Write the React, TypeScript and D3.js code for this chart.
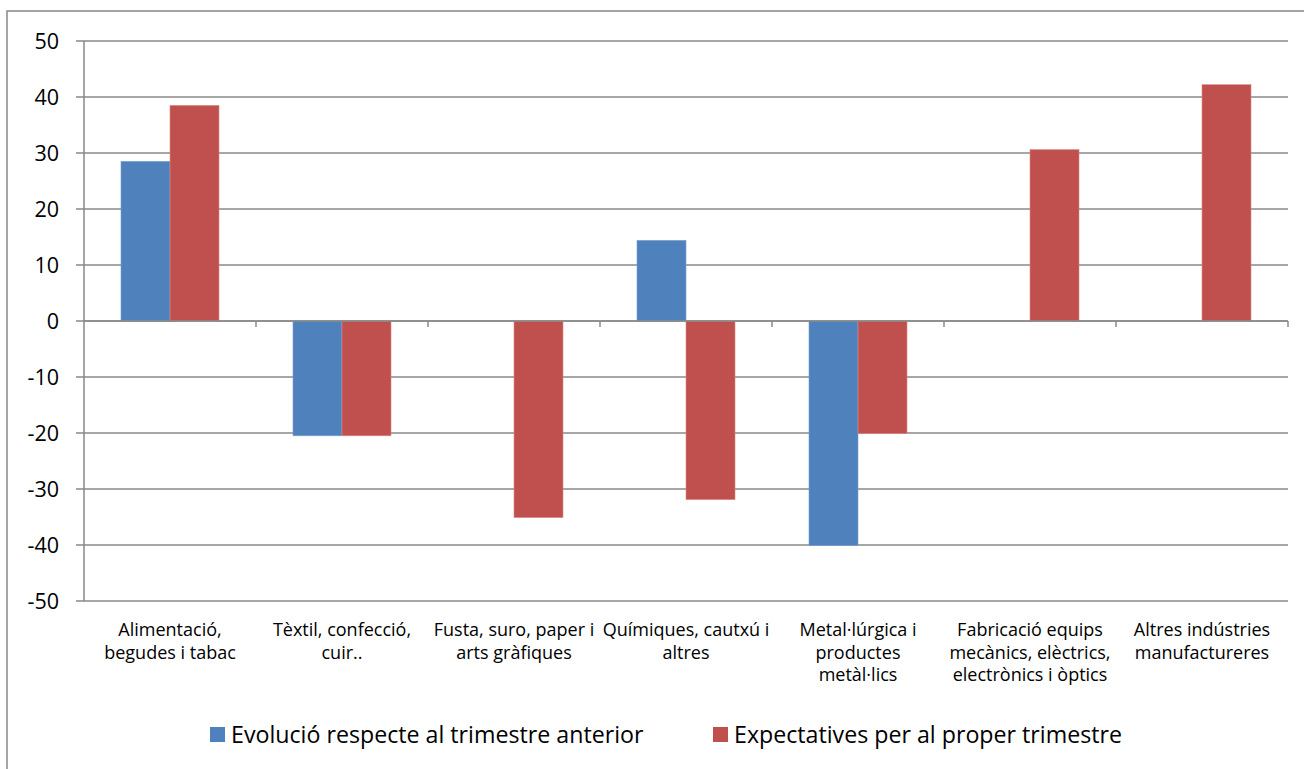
import React from "react";
import * as d3 from "d3";

const categories: string[][] = [
  ["Alimentació,", "begudes i tabac"],
  ["Tèxtil, confecció,", "cuir.."],
  ["Fusta, suro, paper i", "arts gràfiques"],
  ["Químiques, cautxú i", "altres"],
  ["Metal·lúrgica i", "productes", "metàl·lics"],
  ["Fabricació equips", "mecànics, elèctrics,", "electrònics i òptics"],
  ["Altres indústries", "manufactureres"],
];

const seriesNames = [
  "Evolució respecte al trimestre anterior",
  "Expectatives per al proper trimestre",
];

const evolucio: (number | null)[] = [28.5, -20.5, null, 14.4, -40.1, null, null];
const expectatives: (number | null)[] = [38.5, -20.5, -35.1, -31.9, -20.1, 30.6, 42.2];

const yTicks = [50, 40, 30, 20, 10, 0, -10, -20, -30, -40, -50];

const colors = ["#4f81bd", "#c0504d"];

const W = 1304;
const H = 769;
const plot = { left: 84, right: 1288, top: 41, bottom: 601 };
const FONT = "'Open Sans', Lato, sans-serif";
const GRID = "#888888";

export default function App() {
  const keys = categories.map((_, i) => String(i));
  const x0 = d3.scaleBand<string>().domain(keys).range([plot.left, plot.right]).padding(0);
  const x1 = d3
    .scaleBand<string>()
    .domain(["0", "1"])
    .range([0, x0.bandwidth()])
    .paddingInner(0)
    .paddingOuter(0.755);
  const y = d3.scaleLinear().domain([-50, 50]).range([plot.bottom, plot.top]);
  const seriesVals = [evolucio, expectatives];

  const legendItems = [
    { sx: 210, tx: 231 },
    { sx: 713, tx: 734 },
  ];

  return (
    <svg
      width={W}
      height={H}
      style={{ position: "absolute", left: 0, top: 0, background: "#fff" }}
      fontFamily={FONT}
    >
      <rect x={7} y={11} width={W + 20} height={H + 20} fill="#fff" stroke={GRID} strokeWidth={1.5} />
      {/* gridlines + y ticks */}
      {yTicks.map((t) => (
        <g key={t}>
          <line x1={plot.left - 8} x2={plot.right} y1={y(t)} y2={y(t)} stroke={GRID} strokeWidth={1.5} />
          <text x={59} y={y(t)} dy="0.36em" textAnchor="end" fontSize={21.5} fill="#000">
            {t}
          </text>
        </g>
      ))}
      {/* y axis */}
      <line x1={plot.left} x2={plot.left} y1={plot.top} y2={plot.bottom} stroke={GRID} strokeWidth={1.5} />
      {/* bars */}
      {keys.map((k, i) => (
        <g key={k} transform={`translate(${x0(k)},0)`}>
          {seriesVals.map((vals, s) => {
            const v = vals[i];
            if (v === null) return null;
            const yy = Math.min(y(v), y(0));
            const hh = Math.abs(y(v) - y(0));
            return (
              <rect
                key={s}
                x={x1(String(s))}
                y={yy}
                width={x1.bandwidth()}
                height={hh}
                fill={colors[s]}
                stroke={s === 0 ? "#7ba0d0" : "#d98a88"}
                strokeWidth={0.6}
              />
            );
          })}
        </g>
      ))}
      {/* x axis at zero */}
      <line x1={plot.left} x2={plot.right} y1={y(0)} y2={y(0)} stroke={GRID} strokeWidth={1.5} />
      {keys.map((k) => (
        <line
          key={"t" + k}
          x1={(x0(k) as number) + x0.bandwidth()}
          x2={(x0(k) as number) + x0.bandwidth()}
          y1={y(0)}
          y2={y(0) + 6}
          stroke={GRID}
          strokeWidth={1.5}
        />
      ))}
      {/* category labels */}
      {categories.map((lines, i) => (
        <text
          key={"c" + i}
          x={(x0(String(i)) as number) + x0.bandwidth() / 2}
          y={636}
          textAnchor="middle"
          fontSize={18}
          fill="#000"
        >
          {lines.map((l, j) => (
            <tspan key={j} x={(x0(String(i)) as number) + x0.bandwidth() / 2} dy={j === 0 ? 0 : 22.5}>
              {l}
            </tspan>
          ))}
        </text>
      ))}
      {/* legend */}
      {seriesNames.map((n, s) => (
        <g key={n}>
          <rect x={legendItems[s].sx} y={727} width={15} height={15} fill={colors[s]} />
          <text x={legendItems[s].tx} y={743} fontSize={23.2} fill="#000">
            {n}
          </text>
        </g>
      ))}
    </svg>
  );
}
